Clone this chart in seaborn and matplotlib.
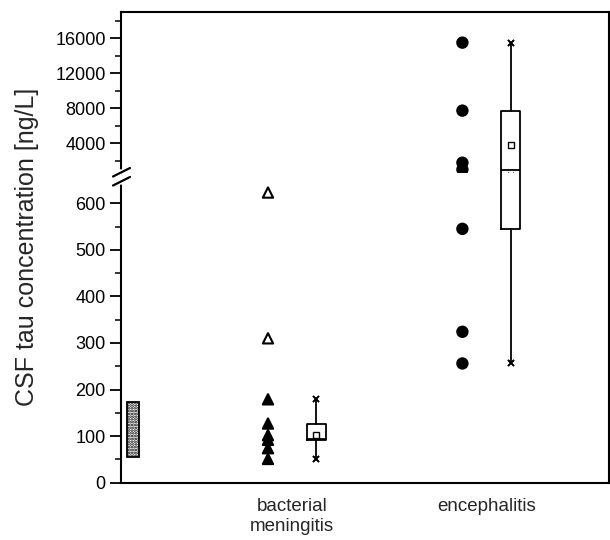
import numpy as np
import pandas as pd
import matplotlib
matplotlib.use("Agg")
import matplotlib.pyplot as plt
from matplotlib.lines import Line2D
import seaborn as sns

# ---- data ----
groups = ["bacterial\nmeningitis", "encephalitis"]

bm_filled = [179, 127, 102, 92, 74, 51]
bm_open = [623, 310]
enc_values = [15500, 7730, 1780, 1000, 545, 324, 256]

# box summaries as drawn (bacterial meningitis, encephalitis)
box_q1 = [91, 545]
box_med = [93, 970]
box_q3 = [125, 7700]
box_lo = [51, 256]
box_hi = [180, 15500]
box_mean = [103, 3800]

# reference range of controls
ref_range = [56, 174]

# ---- build table ----
pts = pd.concat(
    [
        pd.DataFrame({"grp": 1, "value": bm_filled, "kind": "filled"}),
        pd.DataFrame({"grp": 1, "value": bm_open, "kind": "open"}),
        pd.DataFrame({"grp": 2, "value": enc_values, "kind": "enc"}),
    ],
    ignore_index=True,
)
pts["x"] = pts["grp"] - 0.124

stats = []
for i in range(len(groups)):
    stats.append(
        dict(
            med=box_med[i],
            q1=box_q1[i],
            q3=box_q3[i],
            whislo=box_lo[i],
            whishi=box_hi[i],
            mean=box_mean[i],
            fliers=[],
        )
    )

sns.set_style("ticks")
plt.rcParams["font.family"] = ["Liberation Sans", "DejaVu Sans"]
plt.rcParams["hatch.linewidth"] = 1.3

W, H = 610, 540
cut = 660  # where the axis is broken
fig = plt.figure(figsize=(6.1, 5.4), dpi=100)
left = 121 / W
width = (609 - 121) / W
split = 172.5
ax_top = fig.add_axes([left, 1 - split / H, width, (split - 12) / H])
ax_bot = fig.add_axes([left, 1 - 482.7 / H, width, (482.7 - split) / H])

for ax, part in ((ax_top, pts[pts.value > cut]), (ax_bot, pts[pts.value <= cut])):
    ax.bar(
        0.18,
        ref_range[1] - ref_range[0],
        bottom=ref_range[0],
        width=0.062,
        facecolor="white",
        edgecolor="black",
        hatch="......",
        linewidth=1.3,
    )
    sns.scatterplot(
        data=part,
        x="x",
        y="value",
        hue="kind",
        style="kind",
        markers={"filled": "^", "open": "^", "enc": "o"},
        palette={"filled": "black", "open": "white", "enc": "black"},
        edgecolor="black",
        linewidth=1.5,
        s=55,
        legend=False,
        ax=ax,
        zorder=3,
        clip_on=False,
    )
    ax.bxp(
        stats,
        positions=[1.125, 2.125],
        widths=0.098,
        showmeans=True,
        showfliers=False,
        manage_ticks=False,
        capwidths=[0, 0],
        boxprops=dict(color="black", linewidth=1.3),
        whiskerprops=dict(color="black", linewidth=1.3),
        capprops=dict(color="black", marker="x", markersize=5, markeredgewidth=1.2, linestyle="none"),
        medianprops=dict(color="black", linewidth=1.3),
        meanprops=dict(marker="s", markerfacecolor="white", markeredgecolor="black",
                       markersize=4.5, markeredgewidth=1.0),
    )
    ax.set_xlim(0.12, 2.63)
    ax.set_xlabel("")
    ax.set_ylabel("")
    for sp in ax.spines.values():
        sp.set_linewidth(1.5)
        sp.set_color("black")
    ax.tick_params(axis="y", which="major", direction="out", length=8, width=1.3,
                   labelsize=13, pad=3, colors="black")
    ax.tick_params(axis="y", which="minor", direction="out", length=4, width=1.3)

# upper part
ax_top.set_ylim(cut, 19000)
ax_top.set_yticks([4000, 8000, 12000, 16000])
ax_top.set_yticks([2000, 6000, 10000, 14000, 18000], minor=True)
ax_top.set_xticks([])
ax_top.spines["bottom"].set_visible(False)

# lower part
ax_bot.set_ylim(0, 666)
ax_bot.set_yticks(range(0, 700, 100))
ax_bot.set_yticks(range(50, 600, 100), minor=True)
ax_bot.set_xticks([1, 2])
ax_bot.set_xticklabels(groups, fontsize=13.5)
ax_bot.tick_params(axis="x", length=0, pad=11)
ax_bot.spines["top"].set_visible(False)


# axis break marks on left spine (figure pixel coords)
def fpx(xs, ys):
    return [x / W for x in xs], [1 - y / H for y in ys]


fig.add_artist(Line2D(*fpx([121, 121], [172, 182]), transform=fig.transFigure,
                      color="white", lw=4, zorder=10))
fig.add_artist(Line2D(*fpx([113, 130], [176.5, 168]), transform=fig.transFigure,
                      color="black", lw=1.6, zorder=11))
fig.add_artist(Line2D(*fpx([113, 130], [185.5, 177]), transform=fig.transFigure,
                      color="black", lw=1.6, zorder=11))

fig.text(27 / W, 1 - 247 / H, "CSF tau concentration [ng/L]", rotation=90,
         ha="center", va="center", fontsize=18)

fig.savefig("out.png", dpi=100)
